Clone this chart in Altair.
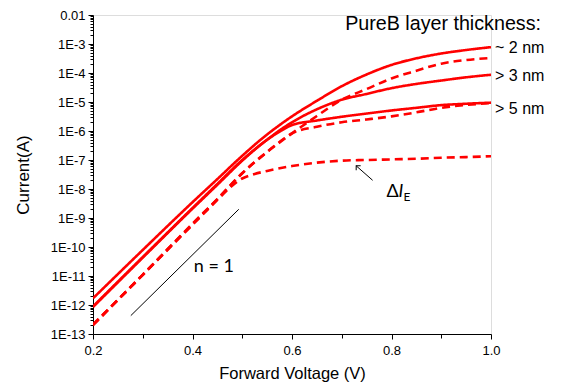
import altair as alt
import pandas as pd

# Currents (A) against forward voltage (V)
solid_2nm_v = [0.20, 0.30, 0.40, 0.45, 0.50, 0.55, 0.575, 0.60, 0.65, 0.70, 0.75, 0.80, 0.85, 0.90, 0.95, 1.00]
solid_2nm_i = [1.7e-12, 7.9e-11, 3.5e-9, 2.2e-8, 1.4e-7, 7.6e-7, 1.6e-6, 3.2e-6, 1.1e-5, 3.5e-5, 8.9e-5, 1.9e-4, 3.2e-4, 4.7e-4, 6.2e-4, 7.8e-4]

solid_3nm_v = [0.20, 0.30, 0.40, 0.45, 0.50, 0.55, 0.575, 0.60, 0.65, 0.70, 0.75, 0.80, 0.85, 0.90, 0.95, 1.00]
solid_3nm_i = [8.9e-13, 4.5e-11, 2.2e-9, 1.5e-8, 1.0e-7, 5.0e-7, 1.05e-6, 2.0e-6, 5.6e-6, 1.2e-5, 1.9e-5, 3.0e-5, 4.2e-5, 5.5e-5, 7.1e-5, 8.7e-5]

solid_5nm_v = [0.20, 0.30, 0.40, 0.45, 0.50, 0.55, 0.575, 0.60, 0.65, 0.70, 0.75, 0.80, 0.85, 0.90, 0.95, 1.00]
solid_5nm_i = [8.5e-13, 4.3e-11, 2.1e-9, 1.4e-8, 9.5e-8, 5.0e-7, 9.5e-7, 1.6e-6, 2.3e-6, 3.1e-6, 4.0e-6, 5.1e-6, 6.3e-6, 7.8e-6, 8.7e-6, 9.5e-6]

dashed_2nm_v = [0.20, 0.30, 0.40, 0.45, 0.50, 0.55, 0.575, 0.60, 0.65, 0.70, 0.75, 0.80, 0.85, 0.90, 0.95, 1.00]
dashed_2nm_i = [2.1e-13, 1.1e-11, 6.3e-10, 4.5e-9, 3.5e-8, 1.9e-7, 4.0e-7, 8.3e-7, 3.3e-6, 1.2e-5, 2.8e-5, 6.5e-5, 1.2e-4, 2.1e-4, 2.8e-4, 3.3e-4]

dashed_5nm_v = [0.20, 0.30, 0.40, 0.45, 0.50, 0.55, 0.575, 0.60, 0.65, 0.70, 0.75, 0.80, 0.85, 0.90, 0.95, 1.00]
dashed_5nm_i = [2.1e-13, 1.1e-11, 6.3e-10, 4.5e-9, 3.5e-8, 1.9e-7, 4.2e-7, 8.3e-7, 1.4e-6, 2.0e-6, 2.5e-6, 3.2e-6, 4.4e-6, 6.3e-6, 7.9e-6, 9.1e-6]

dashed_low_v = [0.20, 0.30, 0.40, 0.45, 0.475, 0.50, 0.525, 0.55, 0.60, 0.65, 0.70, 0.75, 0.80, 0.85, 0.90, 0.95, 1.00]
dashed_low_i = [2.0e-13, 1.1e-11, 5.8e-10, 4.2e-9, 1.1e-8, 2.3e-8, 3.3e-8, 4.2e-8, 6.2e-8, 8.1e-8, 9.5e-8, 1.0e-7, 1.05e-7, 1.1e-7, 1.2e-7, 1.26e-7, 1.35e-7]

# Ideal n = 1 reference line
ideal_v = [0.276, 0.493]
ideal_i = [4.3e-13, 2.0e-9]

# Labels at the right
label_text = ["~ 2 nm", "> 3 nm", "> 5 nm"]
label_i = [7.2e-4, 7.8e-5, 5.7e-6]

series = [
    ("solid_2nm", "solid", solid_2nm_v, solid_2nm_i),
    ("solid_3nm", "solid", solid_3nm_v, solid_3nm_i),
    ("solid_5nm", "solid", solid_5nm_v, solid_5nm_i),
    ("dashed_2nm", "dashed", dashed_2nm_v, dashed_2nm_i),
    ("dashed_5nm", "dashed", dashed_5nm_v, dashed_5nm_i),
    ("dashed_low", "dashed", dashed_low_v, dashed_low_i),
]
rows = []
for name, style, vs, cs in series:
    for v, c in zip(vs, cs):
        rows.append({"series": name, "style": style, "V": v, "I": c})
df = pd.DataFrame(rows)

x_scale = alt.Scale(domain=[0.2, 1.0], nice=False, zero=False)
y_scale = alt.Scale(type="log", domain=[1e-13, 0.01], nice=False)

FONT = "Liberation Sans"

x_ticks = [0.2, 0.3, 0.4, 0.5, 0.6, 0.7, 0.8, 0.9, 1.0]
x_major = "round(datum.value*10) % 2 == 0"
x_axis = alt.Axis(
    title="Forward Voltage (V)", values=x_ticks,
    labelExpr=f"{x_major} ? format(datum.value, '.1f') : ''",
    tickSize={"condition": {"test": x_major, "value": 5}, "value": 4},
    grid=False, domainColor="black", tickColor="black", labelColor="black",
    titleColor="black", labelFont=FONT, titleFont=FONT, labelFontSize=13,
    titleFontSize=16.5, titleFontWeight="normal", labelPadding=5, titlePadding=8,
    labelOverlap=False, labelFlush=False, domainWidth=1, tickWidth=1,
)

y_ticks = [m * 10.0 ** k for k in range(-13, -2) for m in range(1, 10)] + [0.01]
y_major = "abs(log(datum.value)/LN10 - round(log(datum.value)/LN10)) < 0.001"
y_axis = alt.Axis(
    title="Current(A)", values=y_ticks,
    labelExpr=f"{y_major} ? (datum.value > 0.005 ? '0.01' : '1E' + round(log(datum.value)/LN10)) : ''",
    tickSize={"condition": {"test": y_major, "value": 5}, "value": 3},
    grid=False, domainColor="black", tickColor="black", labelColor="black",
    titleColor="black", labelFont=FONT, titleFont=FONT, labelFontSize=13,
    titleFontSize=17, titleFontWeight="normal", labelPadding=3, titlePadding=18,
    labelOverlap=False, labelFlush=False, domainWidth=1, tickWidth=1,
)

lines = alt.Chart(df).mark_line(color="#ff0000", strokeWidth=2.6, interpolate="monotone", clip=True).encode(
    x=alt.X("V:Q", scale=x_scale, axis=x_axis),
    y=alt.Y("I:Q", scale=y_scale, axis=y_axis),
    detail="series:N",
    strokeDash=alt.StrokeDash("style:N", scale=alt.Scale(domain=["solid", "dashed"], range=[[1, 0], [8, 5]]), legend=None),
)

ideal_df = pd.DataFrame({"V": ideal_v, "I": ideal_i})
ideal = alt.Chart(ideal_df).mark_line(color="black", strokeWidth=1).encode(
    x=alt.X("V:Q", scale=x_scale), y=alt.Y("I:Q", scale=y_scale)
)

lab_df = pd.DataFrame({"V": [1.0] * 3, "I": label_i, "t": label_text})
labels = alt.Chart(lab_df).mark_text(align="left", baseline="middle", dx=4, font=FONT, fontSize=16, color="black").encode(
    x=alt.X("V:Q", scale=x_scale), y=alt.Y("I:Q", scale=y_scale), text="t:N"
)

head_df = pd.DataFrame({"V": [1.0], "I": [5.0e-3], "t": ["PureB layer thickness:"]})
head = alt.Chart(head_df).mark_text(align="right", baseline="middle", dx=50, font=FONT, fontSize=19.7, color="black").encode(
    x=alt.X("V:Q", scale=x_scale), y=alt.Y("I:Q", scale=y_scale), text="t:N"
)

n_df = pd.DataFrame({"V": [0.4428], "I": [2.1e-11], "t": ["n = 1"]})
n_text = alt.Chart(n_df).mark_text(align="center", baseline="middle", font="Lato", fontSize=18, color="black").encode(
    x=alt.X("V:Q", scale=x_scale), y=alt.Y("I:Q", scale=y_scale), text="t:N"
)

# Delta I_E annotation
d_df = pd.DataFrame({"V": [0.790], "I": [8.0e-9]})
delta = alt.Chart(d_df).mark_text(align="left", baseline="middle", font="Lato", fontSize=18, color="black", text="Δ").encode(
    x=alt.X("V:Q", scale=x_scale), y=alt.Y("I:Q", scale=y_scale)
)
ital = alt.Chart(d_df).mark_text(align="left", baseline="middle", font="Lato", fontSize=18, fontStyle="italic", color="black", text="I", dx=12).encode(
    x=alt.X("V:Q", scale=x_scale), y=alt.Y("I:Q", scale=y_scale)
)
sub = alt.Chart(d_df).mark_text(align="left", baseline="middle", font="Lato", fontSize=12, color="black", text="E", dx=17, dy=5).encode(
    x=alt.X("V:Q", scale=x_scale), y=alt.Y("I:Q", scale=y_scale)
)

arrow_v = [0.762, 0.729]
arrow_i = [2.0e-8, 6.3e-8]
arr_df = pd.DataFrame({"V": [arrow_v[0]], "I": [arrow_i[0]], "V2": [arrow_v[1]], "I2": [arrow_i[1]]})
arrow = alt.Chart(arr_df).mark_rule(color="black", strokeWidth=1).encode(
    x=alt.X("V:Q", scale=x_scale), y=alt.Y("I:Q", scale=y_scale), x2="V2:Q", y2="I2:Q"
)
tip_df = pd.DataFrame({"V": [arrow_v[1]], "I": [arrow_i[1]]})
tip = alt.Chart(tip_df).mark_point(
    shape="M-1,1L0,0L1,1", size=40, filled=False, stroke="black", strokeWidth=1, angle=315, opacity=1
).encode(x=alt.X("V:Q", scale=x_scale), y=alt.Y("I:Q", scale=y_scale))

chart = alt.layer(lines, ideal, labels, head, n_text, delta, ital, sub, arrow, tip).properties(
    width=398, height=319,
    autosize=alt.AutoSizeParams(type="none"),
    padding={"left": 85, "top": 7, "right": 62, "bottom": 52},
).configure_view(stroke=None).configure(background="white")

chart.save("out.html", embed_options={"renderer": "svg", "actions": False})
